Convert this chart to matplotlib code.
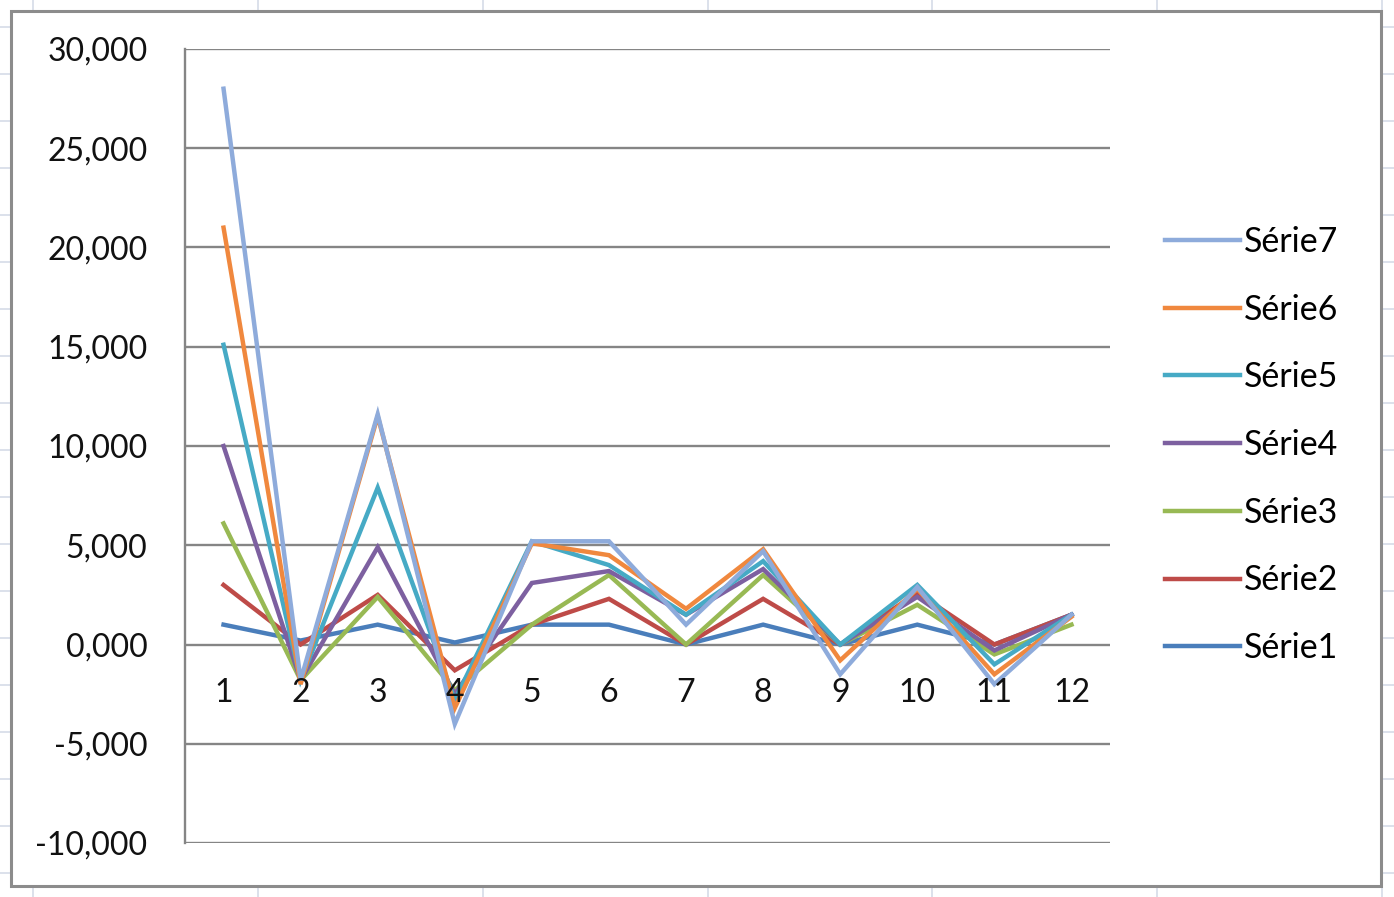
import matplotlib
matplotlib.use("Agg")
import matplotlib.pyplot as plt
from matplotlib.ticker import FuncFormatter, FixedLocator
from matplotlib.lines import Line2D
from matplotlib.patches import Rectangle

plt.rcParams['font.family'] = ['Lato', 'DejaVu Sans']

# values (French format: "5,000" = 5.000)
categories = [1, 2, 3, 4, 5, 6, 7, 8, 9, 10, 11, 12]
serie1 = [1.0, 0.2, 1.0, 0.1, 1.0, 1.0, 0.0, 1.0, 0.0, 1.0, 0.0, 1.5]
serie2 = [3.0, 0.0, 2.5, -1.3, 1.0, 2.3, 0.0, 2.3, 0.0, 2.6, 0.0, 1.5]
serie3 = [6.1, -1.8, 2.4, -2.3, 1.0, 3.5, 0.0, 3.5, 0.0, 2.0, -0.5, 1.0]
serie4 = [10.0, -1.8, 4.9, -2.5, 3.1, 3.7, 1.5, 3.8, 0.0, 2.4, -0.3, 1.5]
serie5 = [15.1, -1.8, 7.9, -2.8, 5.2, 4.0, 1.5, 4.2, 0.0, 3.0, -1.0, 1.5]
serie6 = [21.0, -2.0, 11.5, -3.2, 5.1, 4.5, 1.8, 4.8, -0.8, 2.8, -1.5, 1.4]
serie7 = [28.0, -1.8, 11.6, -4.0, 5.2, 5.2, 1.0, 4.7, -1.5, 2.9, -2.0, 1.5]
series = [serie1, serie2, serie3, serie4, serie5, serie6, serie7]
names = ['Série1', 'Série2', 'Série3', 'Série4', 'Série5', 'Série6', 'Série7']
colors = ['#4A7EBB', '#BE4B48', '#98B954', '#7D60A0', '#46AAC5', '#F0883E', '#8EABDB']
yticks = [-10, -5, 0, 5, 10, 15, 20, 25, 30]

W, H = 1394, 897
fig = plt.figure(figsize=(W / 100, H / 100), dpi=100)
fig.patch.set_facecolor('white')

# spreadsheet cell lines behind the chart
sheet = '#D5DCE8'
for x in [33, 258, 483, 708, 932, 1157, 1382]:
    fig.add_artist(Line2D([x / W, x / W], [0, 1], color=sheet, lw=1.2, zorder=0))
for y in range(27, 897, 47):
    fig.add_artist(Line2D([0, 1], [1 - y / H, 1 - y / H], color=sheet, lw=1.2, zorder=0))
# chart area
fig.add_artist(Rectangle((11 / W, 1 - 886 / H), (1381 - 11) / W, (886 - 11) / H,
                         facecolor='white', edgecolor='#8C8C8C', lw=2.2, zorder=0.5))

ax = fig.add_axes([185 / W, 1 - 843 / H, (1110 - 185) / W, (843 - 49) / H])
ax.set_facecolor('none')
ax.set_zorder(1)

for v in yticks:
    ax.axhline(v, color='#858585', lw=1.7, zorder=1)

for s, name, c in zip(series, names, colors):
    ax.plot(categories, s, color=c, lw=3.2, label=name, zorder=2, solid_joinstyle='miter')

ax.set_xlim(0.5, 12.5)
ax.set_ylim(-10, 30)
ax.yaxis.set_major_locator(FixedLocator(yticks))
ax.yaxis.set_major_formatter(FuncFormatter(lambda v, p: f"{v:.3f}".replace('.', ',')))
ax.set_xticks(categories)
ax.set_axisbelow(False)

for side in ['top', 'right', 'bottom']:
    ax.spines[side].set_visible(False)
ax.spines['bottom'].set_position(('data', 0))
ax.spines['left'].set_color('#858585')
ax.spines['left'].set_linewidth(1.7)

ax.tick_params(axis='y', length=0, pad=27, labelsize=23, labelcolor='#111111')
ax.tick_params(axis='x', length=0, pad=24, labelsize=23, labelcolor='#111111')

handles, labels = ax.get_legend_handles_labels()
fig.legend(handles[::-1], labels[::-1], loc='center left',
           bbox_to_anchor=(1165 / W, 1 - 445 / H), frameon=False,
           fontsize=24.5, handlelength=2.2, handletextpad=0.12,
           labelspacing=1.05, borderpad=0, borderaxespad=0)

plt.savefig('out.png', dpi=100)
